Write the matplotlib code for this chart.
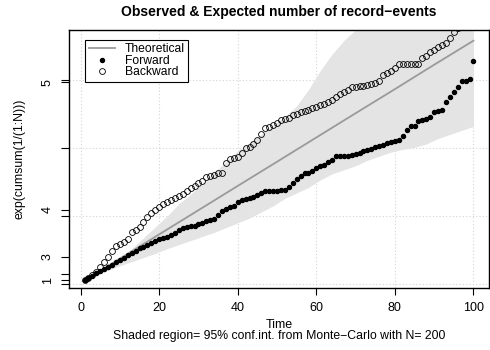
import numpy as np
import matplotlib
matplotlib.use("Agg")
import matplotlib.pyplot as plt
from matplotlib.lines import Line2D

plt.rcParams['font.family'] = ['Liberation Sans', 'DejaVu Sans']

# time index and record statistics on the exp(cumsum) scale
time = list(range(1, 101))

forward = [
    2.7, 4.2, 6.0, 7.8, 9.3, 11.2, 12.5, 14.3, 16.0, 17.8,
    19.3, 21.0, 22.8, 24.3, 26.2, 27.6, 28.7, 30.0, 31.3, 32.8,
    33.8, 34.8, 36.0, 37.5, 39.5, 41.0, 41.8, 42.4, 43.0, 44.0,
    45.2, 46.3, 47.0, 48.0, 50.5, 53.5, 55.0, 56.4, 57.4, 60.5,
    62.0, 62.8, 63.5, 64.3, 65.5, 67.0, 68.6, 68.6, 68.6, 68.6,
    68.8, 69.5, 71.0, 74.0, 77.5, 79.5, 81.6, 82.0, 82.8, 85.0,
    86.5, 87.7, 89.5, 91.4, 93.9, 93.9, 93.9, 94.2, 95.1, 95.5,
    96.5, 97.6, 98.8, 99.5, 101.0, 101.8, 102.5, 103.7, 104.5, 105.2,
    106.0, 108.6, 113.5, 116.4, 116.4, 119.6, 120.8, 121.6, 123.0, 126.5,
    127.0, 128.2, 133.8, 137.3, 141.2, 144.9, 149.0, 149.0, 151.0, 163.7,
]

backward = [
    2.7, 4.5, 6.5, 8.5, 12.2, 16.2, 20.1, 24.5, 27.8, 29.5,
    30.8, 33.0, 38.0, 39.5, 42.0, 45.5, 49.0, 52.0, 54.5, 57.0,
    59.0, 60.5, 62.0, 63.5, 64.8, 66.5, 68.5, 70.8, 72.4, 74.0,
    76.0, 78.5, 79.4, 80.4, 81.4, 81.8, 88.7, 91.7, 93.0, 93.6,
    96.5, 100.2, 101.0, 103.0, 106.0, 110.5, 114.5, 115.5, 116.9, 118.2,
    120.5, 121.5, 122.0, 124.0, 125.0, 126.2, 127.0, 128.0, 129.4, 130.5,
    131.5, 132.2, 133.6, 135.0, 137.5, 139.5, 141.2, 142.9, 144.6, 145.1,
    145.4, 145.8, 146.5, 147.0, 148.0, 149.0, 153.9, 155.0, 156.4, 158.5,
    162.0, 162.0, 162.0, 162.0, 162.0, 162.0, 166.0, 168.0, 170.6, 172.0,
    174.0, 175.5, 177.5, 181.0, 185.0, 188.0, 190.0, 191.5, 193.0, 195.0,
]

# expected number of records H_n at a few times (straight line on this scale)
theo_time = [1, 10, 20, 30, 40, 50, 60, 70, 80, 90, 100]
theo_records = [1.0, 2.929, 3.598, 3.995, 4.279, 4.499, 4.680, 4.833, 4.965, 5.083, 5.187]

# Monte-Carlo 95% band
band_time = [1, 4, 7, 10, 13, 16, 19, 22, 25, 28, 31, 34, 37, 40, 43, 46, 49,
             52, 55, 58, 61, 64, 67, 70, 73, 76, 79, 82, 85, 88, 91, 94, 97, 100]
band_lower = [2.7, 6.5, 10.0, 13.5, 16.5, 19.5, 22.5, 26.0, 29.0, 32.0, 35.0,
              38.0, 41.5, 45.0, 48.5, 53.0, 57.5, 63.0, 67.0, 71.0, 76.5, 81.0,
              84.0, 87.0, 91.0, 94.0, 97.0, 99.0, 100.5, 103.0, 107.0, 110.0,
              113.0, 116.0]
band_upper = [2.7, 7.5, 13.0, 19.5, 26.0, 34.0, 42.0, 50.0, 59.0, 66.0, 74.0,
              82.0, 90.0, 98.0, 104.0, 110.0, 117.0, 123.0, 131.0, 143.0, 157.0,
              169.0, 179.0, 187.0, 195.0, 201.0, 208.0, 216.0, 224.0, 232.0,
              240.0, 248.0, 254.0, 260.0]

fig = plt.figure(figsize=(4.9, 3.5), dpi=100)
ax = fig.add_axes([69 / 490, 1 - 288 / 350, 420 / 490, 258 / 350])

ax.set_xlim(-2.96, 103.96)
ax.set_ylim(-2.9, 186.8)

# dotted grid at the default axis ticks
for gx in [0, 20, 40, 60, 80, 100]:
    ax.axvline(gx, color='#d3d3d3', lw=0.8, ls=(0, (1, 2)), zorder=0)
for gy in [0, 50, 100, 150]:
    ax.axhline(gy, color='#d3d3d3', lw=0.8, ls=(0, (1, 2)), zorder=0)

ax.fill_between(band_time, band_lower, band_upper, color='#e4e4e4', lw=0, zorder=1)
ax.plot(theo_time, np.exp(theo_records), color='#9a9a9a', lw=1.3, zorder=2)
ax.plot(time, forward, 'o', ms=2.9, color='black', mec='black', zorder=3)
ax.plot(time, backward, 'o', ms=4.2, mfc='none', mec='black', mew=0.6, zorder=3)

# x axis
ax.set_xticks([0, 20, 40, 60, 80, 100])
ax.tick_params(axis='x', length=5, width=0.8, pad=5, labelsize=9)

# y axis: plain ticks plus the labelled positions exp(1..5)
rec_ticks = [1, 2, 3, 4, 5]
ax.set_yticks([0, 50, 100, 150] + list(np.exp(rec_ticks)))
ax.set_yticklabels(['', '', '', '', '1', '', '3', '4', '5'], rotation=90, va='center')
ax.tick_params(axis='y', length=6, width=0.8, pad=5, labelsize=9)

for sp in ax.spines.values():
    sp.set_linewidth(1.0)

handles = [
    Line2D([], [], color='#9a9a9a', lw=1.3),
    Line2D([], [], ls='none', marker='o', ms=2.9, color='black'),
    Line2D([], [], ls='none', marker='o', ms=4.2, mfc='none', mec='black', mew=0.6),
]
leg = ax.legend(handles, ['Theoretical', 'Forward', 'Backward'],
                loc='upper left', bbox_to_anchor=(0.038, 0.962),
                fontsize=8.7, frameon=True, fancybox=False, framealpha=1,
                edgecolor='black', borderpad=0.3, labelspacing=-0.05,
                handlelength=2.2, handletextpad=0.8, borderaxespad=0)
leg.get_frame().set_linewidth(0.8)

fig.text(279 / 490, 1 - 12 / 350, 'Observed & Expected number of record\u2212events',
         ha='center', va='center', fontsize=10, fontweight='bold')
fig.text(279 / 490, 1 - 325 / 350, 'Time', ha='center', va='center', fontsize=9)
fig.text(279 / 490, 1 - 336 / 350,
         'Shaded region= 95% conf.int. from Monte\u2212Carlo with N= 200',
         ha='center', va='center', fontsize=8.8)
fig.text(20 / 490, 1 - 159 / 350, 'exp(cumsum(1/(1:N)))', rotation=90,
         ha='center', va='center', fontsize=8.8)

fig.savefig('out.png', dpi=100)
